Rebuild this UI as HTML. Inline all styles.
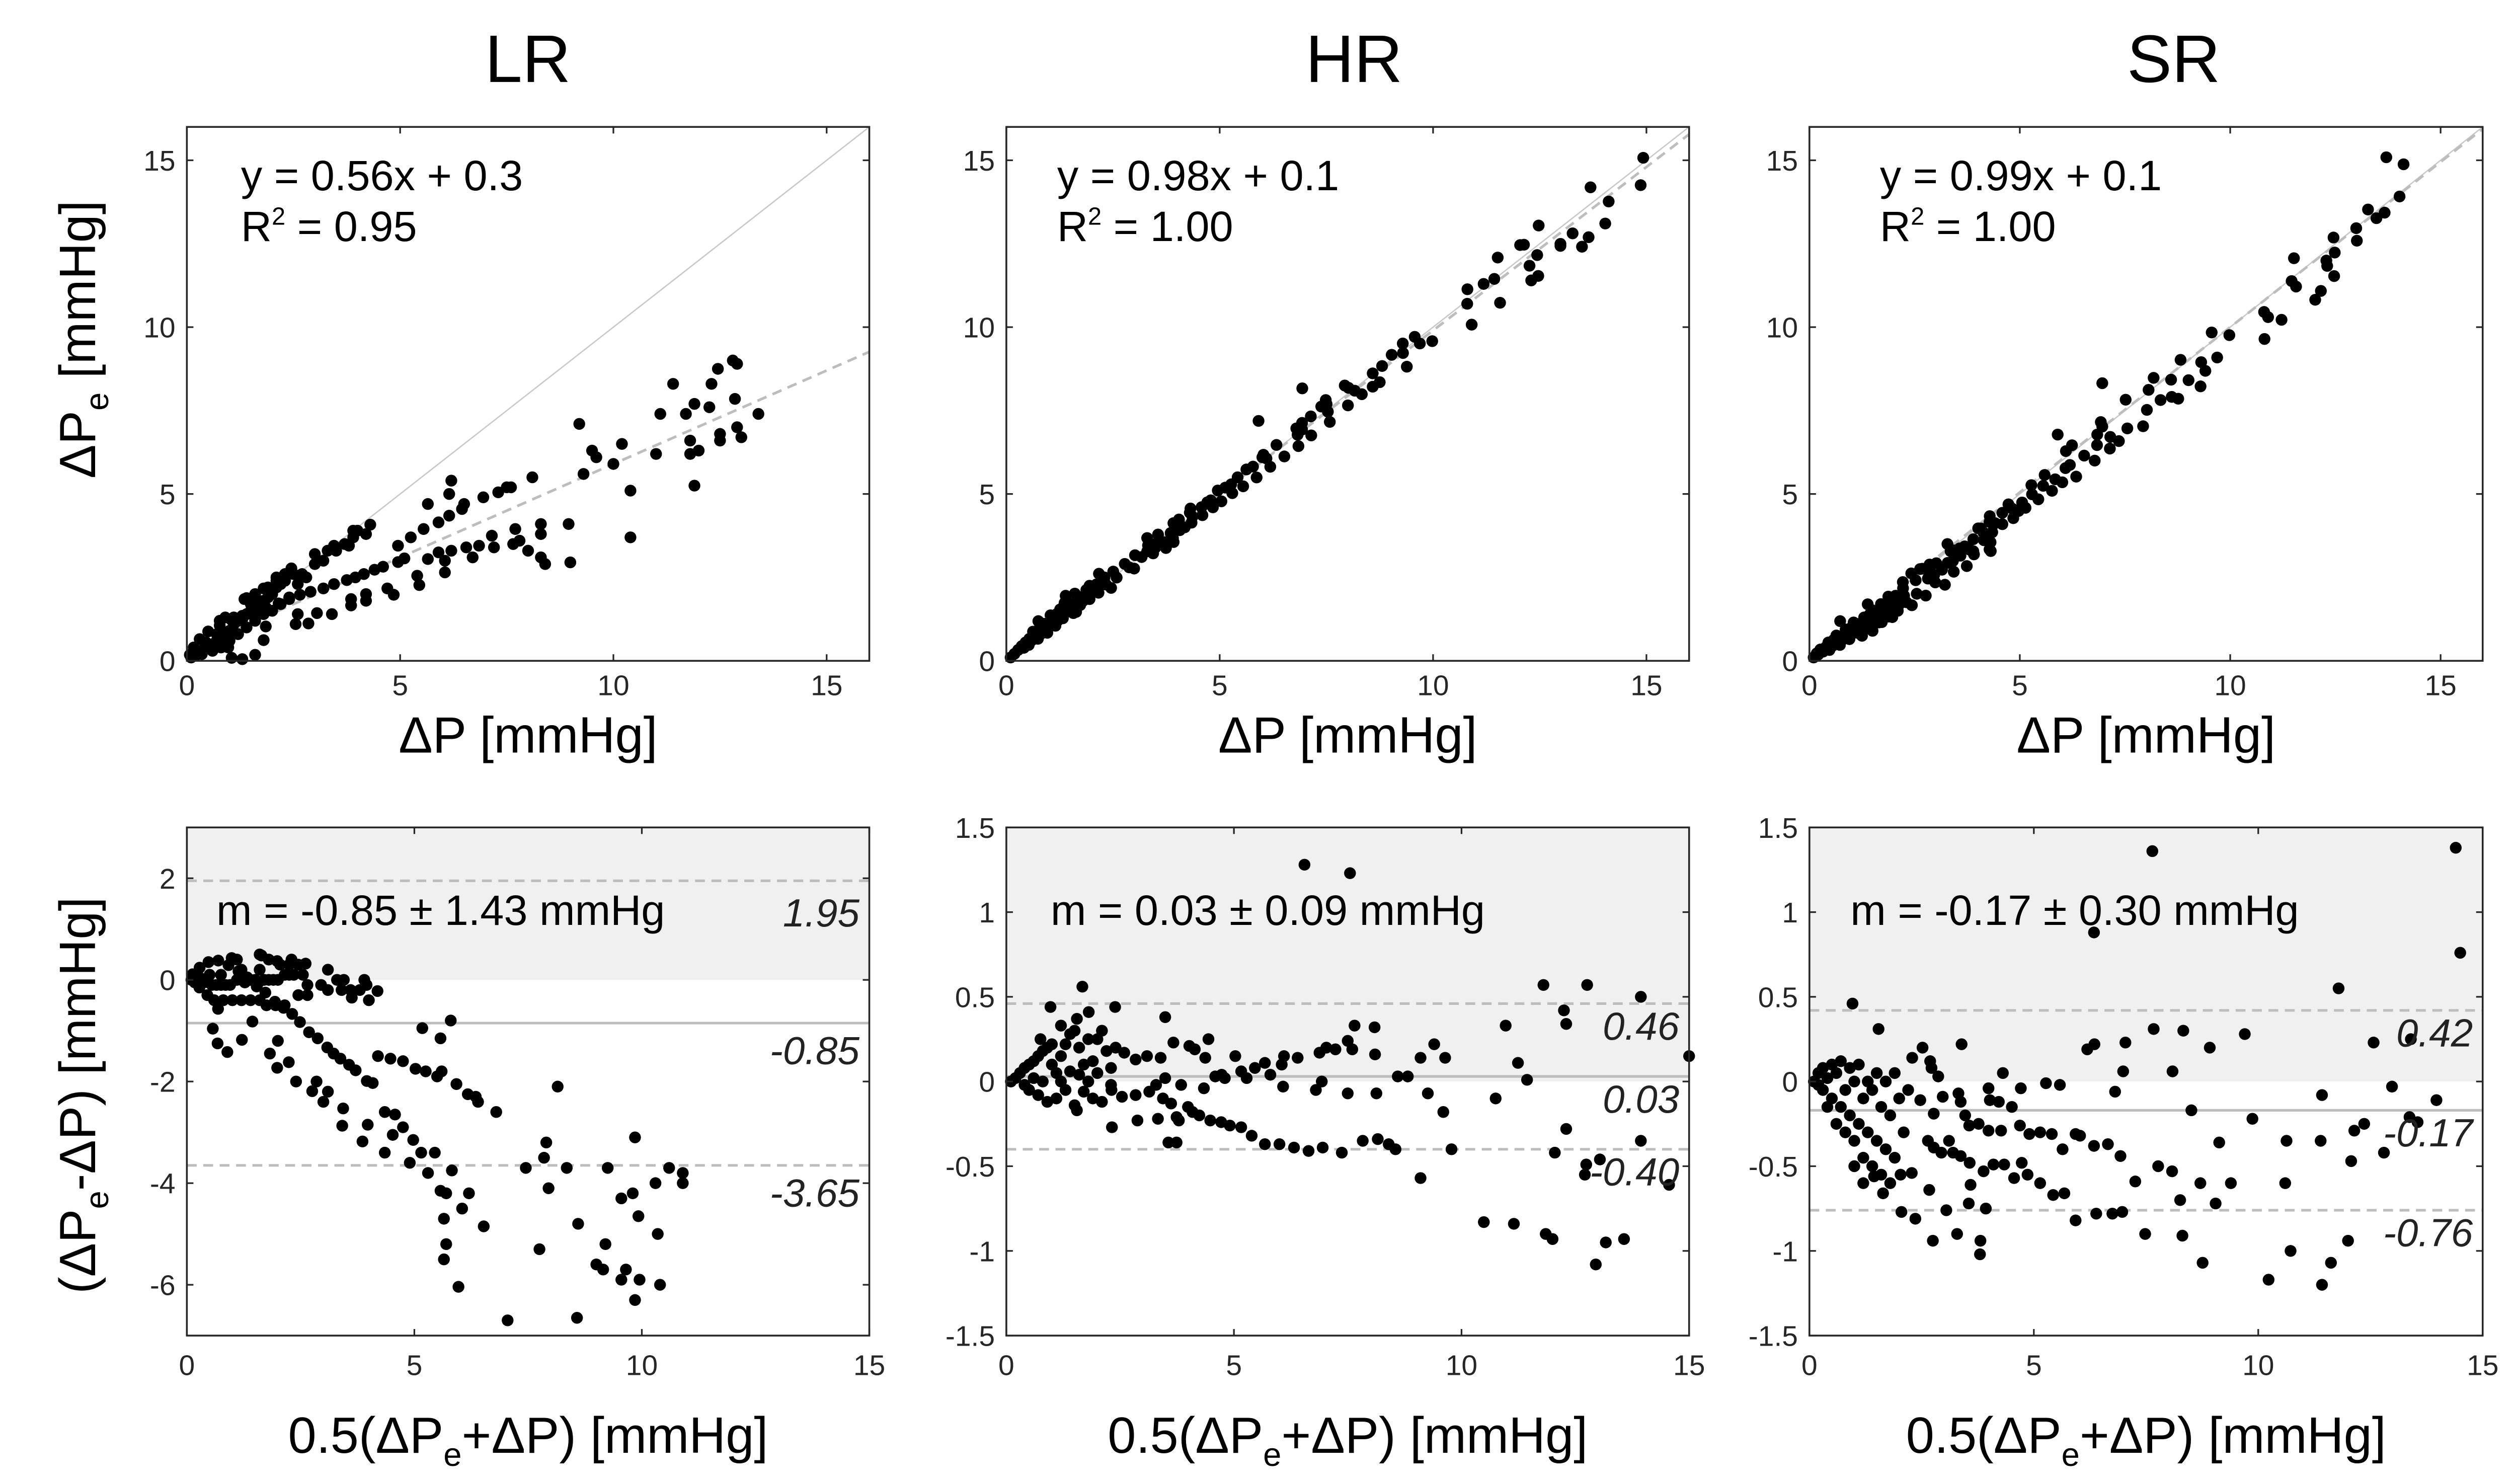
<!DOCTYPE html>
<html><head><meta charset="utf-8"><style>
html,body{margin:0;padding:0;background:#fff;}
svg{display:block;font-family:"Liberation Sans",sans-serif;}
</style></head><body>
<svg id="fig" width="5082" height="2949" viewBox="0 0 1560 905" preserveAspectRatio="none" xmlns="http://www.w3.org/2000/svg"></svg>
<script>
// ---------- data ----------
const lrP  = [13.4,12.9,12.8,12.45,12.3,11.4,12.85,12.25,11.9,11.7,11.1,12.9,13.0,12.5,12.5,11.8,11.8,12.0,11.0,11.9,10.2,10.0,9.2,9.5,9.6,9.3,10.4,10.4,8.95,8.99,8.1,7.6,7.5,7.3,6.95,6.5,6.45,6.2,6.15,6.15,5.65,5.9,5.55,5.25,4.95,8.3,8.3,7.7,7.8,7.65,8.0,8.3,8.4,7.15,7.2,6.85,6.7,6.55,6.2,5.9,6.05,6.05,5.65,5.45,5.4,4.85,4.7,4.2,4.2,3.85,3.85,3.4,3.05,2.55,2.6,2.85,4.3,3.9,3.8,3.45,3.3,3.0,2.45,2.1,1.8,1.4,0.77,5.1,4.95,4.6,4.4,4.15,3.95,3.75,3.45,3.2,2.9,2.65,2.4,2.15,1.85,1.6,1.3,1.05,0.77,0.5,0.3,0.16,0.07,1.05,1.3,1.6,1.8,1.85,0.97,0.1,0.2,0.3,0.4,0.5,0.6,0.7,0.8,0.9,1.0,1.1,1.2,1.3,1.4,1.5,1.6,1.7,1.8,1.9,2.0,2.1,2.2,2.3,2.5,2.7,0.6,0.8,1.0,1.2,1.4,1.6,1.8,2.0,2.2,2.4,1.35,0.9,1.6,1.9,2.1,2.3,0.35,0.25,0.45,0.7,1.1,1.5,2.6,2.8,3.0,3.2,3.5,3.7,4.0,4.2,3.9];
const lrPe = [7.4,8.9,9.0,8.75,8.3,8.3,7.85,7.6,7.7,7.4,7.4,7.0,6.7,6.8,6.6,6.6,6.2,6.3,6.2,5.25,6.5,5.9,7.1,6.3,6.1,5.6,5.1,3.7,4.1,2.95,5.5,5.2,5.2,5.05,4.9,4.7,4.55,5.4,5.0,4.35,4.7,4.15,3.95,3.7,3.45,4.1,3.8,3.95,3.6,3.5,3.3,3.1,2.9,3.75,3.4,3.45,3.1,3.4,3.3,3.25,3.0,2.65,3.05,2.27,2.55,1.98,2.17,2.0,1.8,1.85,1.66,1.4,1.43,1.1,1.4,1.12,4.08,3.9,3.45,3.45,3.3,3.2,2.77,2.4,2.17,1.88,1.2,3.07,2.96,2.82,2.73,2.6,2.5,2.42,2.3,2.17,2.07,1.98,1.85,1.72,1.6,1.47,1.35,1.22,1.06,0.88,0.65,0.4,0.18,0.09,0.05,0.18,0.62,1.03,0.4,0.1,0.15,0.25,0.35,0.45,0.5,0.6,0.7,0.8,0.9,1.1,1.2,1.25,1.4,1.5,1.55,1.7,1.8,1.9,2.0,2.2,2.3,2.4,2.6,2.6,0.3,0.4,0.6,0.8,1.0,1.2,1.4,1.5,1.7,1.9,1.85,1.3,2.0,2.2,2.5,2.6,0.2,0.3,0.55,0.8,1.3,1.7,2.3,2.5,2.9,3.0,3.3,3.5,3.9,3.8,3.7];

const hrMean = [6.55,7.55,1.67,0.97,2.39,1.81,1.55,3.49,11.8,12.76,13.94,12.25,12.3,10.97,7.65,8.09,15.0,9.4,9.1,9.64,11.24,11.44,10.75,8.1,7.5,7.6,7.23,6.88,7.03,6.4,6.1,6.05,5.68,5.46,5.28,5.16,5.03,4.8,4.73,5.8,6.08,6.8,6.93,7.5,8.13,8.6,8.82,9.26,9.6,9.78,9.1,8.55,8.4,8.16,7.83,7.37,6.95,6.64,6.32,6.0,5.68,5.39,5.16,4.91,4.72,4.48,4.24,4.09,3.99,3.79,3.74,3.56,3.74,3.33,2.88,2.32,1.55,10.49,11.15,11.85,12.0,12.95,13.17,13.57,14.56,12.71,12.74,13.04,13.94,12.05,12.3,4.44,4.37,4.14,4.02,3.67,3.39,3.09,2.84,2.59,4.34,4.59,3.84,3.49,3.29,3.14,2.84,2.54,2.31,3.62,3.44,0.1,0.2,0.3,0.4,0.5,0.6,0.7,0.8,0.9,1.0,1.1,1.2,1.3,1.4,1.5,1.6,1.7,1.8,1.9,2.0,2.1,2.2,2.3,2.4,0.5,0.7,0.9,1.1,1.3,1.5,1.7,1.9,2.1,2.3,0.6,0.8,1.2,1.4,1.6,2.0,0.4,1.0,1.2,1.8,0.75];
const hrDiff = [1.28,1.23,0.56,0.44,0.44,0.41,0.37,0.38,0.57,0.57,0.50,0.42,0.34,0.33,0.33,0.32,0.15,0.22,0.14,0.14,0.11,0.01,-0.1,0.16,0.24,0.19,0.19,0.17,0.2,0.14,0.15,0.1,0.11,0.08,0.02,0.06,0.15,0.02,0.04,0.04,-0.03,-0.05,0.0,-0.07,-0.07,0.03,0.03,-0.07,-0.18,-0.4,-0.57,-0.4,-0.37,-0.34,-0.35,-0.42,-0.39,-0.41,-0.39,-0.37,-0.37,-0.32,-0.27,-0.26,-0.24,-0.23,-0.2,-0.18,-0.15,-0.23,-0.21,-0.36,-0.36,-0.22,-0.23,-0.27,-0.17,-0.83,-0.84,-0.9,-0.93,-1.08,-0.95,-0.93,-0.61,-0.55,-0.49,-0.46,-0.35,-0.42,-0.28,0.25,0.14,0.19,0.21,0.23,0.14,0.15,0.13,0.17,-0.04,0.03,-0.02,0.02,-0.02,-0.06,-0.08,-0.09,-0.05,-0.13,-0.1,0.0,0.02,0.05,0.08,0.1,0.12,0.15,0.18,0.2,0.1,0.05,0.15,0.22,0.28,0.3,0.2,0.1,0.0,0.12,0.25,0.3,0.18,0.08,0.2,-0.05,-0.08,-0.12,-0.1,-0.05,-0.14,-0.06,-0.1,-0.12,-0.02,0.02,0.0,0.0,0.06,0.04,0.05,-0.02,0.22,0.33,0.25,0.25];

const srMean = [7.64,14.4,14.5,6.34,11.79,0.96,1.54,7.67,8.33,9.7,12.57,13.4,7.04,6.35,6.19,8.92,3.39,2.52,2.29,2.69,2.72,2.87,6.99,8.09,4.31,5.27,5.58,4.71,3.99,6.81,12.98,11.42,13.97,8.51,9.87,13.37,13.55,12.36,12.14,10.63,11.39,12.8,12.07,9.13,6.65,6.34,6.93,5.93,6.03,5.64,5.4,5.14,4.9,4.69,4.27,4.51,4.22,4.02,3.99,7.77,8.08,7.26,8.71,9.39,10.6,8.26,9.05,6.97,6.75,6.39,5.93,7.48,8.31,12.0,10.72,11.62,8.76,10.23,11.42,5.68,5.43,5.14,4.86,4.56,4.73,4.34,4.1,3.88,3.59,3.55,3.93,3.81,3.8,3.29,2.75,3.05,2.67,2.36,2.05,1.64,1.44,2.03,2.28,3.37,3.57,3.2,2.94,2.77,2.64,3.11,3.32,3.37,3.47,3.56,3.77,2.77,2.47,2.97,0.1,0.2,0.3,0.4,0.5,0.6,0.7,0.8,0.9,1.0,1.1,1.2,1.3,1.4,1.5,1.6,1.7,1.8,1.9,2.0,2.1,0.4,0.6,0.8,1.0,1.2,1.4,1.6,1.8,0.5,0.7,0.9,1.1,1.3,1.5,1.7,1.9,2.2,1.2,1.0,0.3,0.2];
const srDiff = [1.36,1.38,0.76,0.88,0.55,0.46,0.31,0.31,0.3,0.28,0.23,0.25,0.23,0.22,0.19,0.2,0.22,0.2,0.14,0.12,0.08,0.03,0.06,0.06,0.05,-0.01,-0.02,-0.04,-0.04,-0.06,-0.03,-0.08,-0.11,-0.17,-0.22,-0.21,-0.24,-0.25,-0.29,-0.35,-0.35,-0.42,-0.47,-0.36,-0.37,-0.38,-0.44,-0.31,-0.32,-0.4,-0.31,-0.3,-0.31,-0.26,-0.29,-0.15,-0.12,-0.11,-0.29,-0.5,-0.53,-0.59,-0.6,-0.6,-0.6,-0.7,-0.72,-0.77,-0.78,-0.78,-0.82,-0.9,-0.91,-0.94,-1.0,-1.07,-1.07,-1.17,-1.2,-0.66,-0.67,-0.6,-0.55,-0.57,-0.48,-0.49,-0.49,-0.53,-0.61,-0.72,-0.75,-0.94,-1.02,-0.9,-0.94,-0.76,-0.64,-0.81,-0.77,-0.66,-0.56,-0.55,-0.54,-0.44,-0.48,-0.42,-0.42,-0.39,-0.35,-0.35,-0.07,-0.12,-0.2,-0.26,-0.25,-0.19,-0.11,-0.09,0.0,-0.02,-0.05,0.02,-0.1,0.05,-0.15,-0.05,-0.2,0.0,-0.25,-0.1,-0.3,-0.05,-0.35,-0.15,-0.4,-0.2,-0.45,-0.1,-0.3,-0.15,-0.25,-0.3,-0.35,-0.45,-0.5,-0.55,-0.6,0.1,0.12,0.08,0.1,0.0,0.05,0.0,0.05,-0.05,-0.6,-0.5,0.08,0.05];

const methods = ["LR","HR","SR"];
const fitSlope = [0.56,0.98,0.99];
const fitIntercept = [0.3,0.1,0.1];
const fitR2 = ["0.95","1.00","1.00"];
const meanDiff = [-0.85,0.03,-0.17];
const sdDiff = [1.43,0.09,0.30];
const loaUpper = [1.95,0.46,0.42];
const loaLower = [-3.65,-0.40,-0.76];
const topTicks = [0,5,10,15];
const botXTicks = [0,5,10,15];
const lrYTicks = [2,0,-2,-4,-6];
const hrYTicks = [1.5,1,0.5,0,-0.5,-1,-1.5];

// ---------- layout ----------
const NS="http://www.w3.org/2000/svg";
const svg=document.getElementById('fig');
const colX=[[114,530.3],[613.9,1030.4],[1103.8,1514.5]];
const titleX=[322,826,1326];
const eqOff=[33,31,43];
const mOff=[18,27,25];
const topY=[77.4,403], botY=[504.6,814.5];
function el(tag,attrs,parent){const e=document.createElementNS(NS,tag);for(const k in attrs)e.setAttribute(k,attrs[k]);(parent||svg).appendChild(e);return e;}
function lin(d0,d1,r0,r1){return v=>r0+(v-d0)/(d1-d0)*(r1-r0);}
function fmt(v){return String(v);}

const data=[];
data.push({p:lrP,pe:lrPe});
function fromBA(m,d){const p=[],pe=[];for(let i=0;i<m.length;i++){p.push(m[i]-d[i]/2);pe.push(m[i]+d[i]/2);}return {p,pe};}
data.push(fromBA(hrMean,hrDiff));
data.push(fromBA(srMean,srDiff));

const R=3.6;
function axesBox(g,x0,x1,y0,y1,name){
  const b=el('rect',{x:x0,y:y0,width:x1-x0,height:y1-y0,fill:'none',stroke:'#262626','stroke-width':1.1},g);
  
  
}
function tickText(g,x,y,txt,anchor,name){
  const t=el('text',{x:x,y:y,'text-anchor':anchor,'font-size':17.5,fill:'#262626'},g);
  t.textContent=txt;
  
  
}

for(let c=0;c<3;c++){
  const [x0,x1]=colX[c];
  const cx=(x0+x1)/2;
  const title=el('text',{x:titleX[c],y:50,'text-anchor':'middle','font-size':41,fill:'#000'});
  title.textContent=methods[c];
  
  

  // ---- top scatter ----
  const g=el('g',{});
  
  
  const sx=lin(0,16,x0,x1), sy=lin(0,16,topY[1],topY[0]);
  const idl=el('line',{x1:sx(0),y1:sy(0),x2:sx(16),y2:sy(16),stroke:'#c8c8c8','stroke-width':0.8},g);
  
  
  const fy0=fitIntercept[c], fy1=fitSlope[c]*16+fitIntercept[c];
  const fl=el('line',{x1:sx(0),y1:sy(fy0),x2:sx(16),y2:sy(Math.min(fy1,16.2)),stroke:'#bdbdbd','stroke-width':1.6,'stroke-dasharray':'6 4'},g);
  
  
  const d=data[c];
  for(let i=0;i<d.p.length;i++){
    const pt=el('circle',{cx:sx(d.p[i]),cy:sy(d.pe[i]),r:R,fill:'#000'},g);
    
    
  }
  axesBox(g,x0,x1,topY[0],topY[1],'scatter-axes-box');
  for(const t of topTicks){
    el('line',{x1:sx(t),y1:topY[1],x2:sx(t),y2:topY[1]-4,stroke:'#262626'},g);
    el('line',{x1:sx(t),y1:topY[0],x2:sx(t),y2:topY[0]+4,stroke:'#262626'},g);
    el('line',{x1:x0,y1:sy(t),x2:x0+4,y2:sy(t),stroke:'#262626'},g);
    el('line',{x1:x1,y1:sy(t),x2:x1-4,y2:sy(t),stroke:'#262626'},g);
    tickText(g,sx(t),topY[1]+21,fmt(t),'middle','x-tick-label');
    tickText(g,x0-7,sy(t)+6.3,fmt(t),'end','y-tick-label');
  }
  const eq=el('text',{x:x0+eqOff[c],y:116,'font-size':26,fill:'#000'},g);
  eq.setAttribute('xml:space','preserve');
  eq.textContent='y  = '+fitSlope[c].toFixed(2)+'x + '+fitIntercept[c].toFixed(1);
  
  
  const r2=el('text',{x:x0+eqOff[c],y:147,'font-size':26,fill:'#000'},g);
  r2.innerHTML='R<tspan font-size="15" dy="-10">2</tspan><tspan dy="10"> = '+fitR2[c]+'</tspan>';
  
  
  const xl=el('text',{x:cx,y:459,'text-anchor':'middle','font-size':31,fill:'#000'},g);
  xl.textContent='ΔP [mmHg]';
  
  

  // ---- bottom Bland-Altman ----
  const gb=el('g',{});
  
  
  const yr = c==0?[-7,3]:[-1.5,1.5];
  const bx=lin(0,15,x0,x1), by=lin(yr[0],yr[1],botY[1],botY[0]);
  const sh=el('rect',{x:x0,y:botY[0],width:x1-x0,height:by(0)-botY[0],fill:'#f0f0f0'},gb);
  
  
  const ml=el('line',{x1:x0,y1:by(meanDiff[c]),x2:x1,y2:by(meanDiff[c]),stroke:'#bdbdbd','stroke-width':1.6},gb);
  
  
  for(const v of [loaUpper[c],loaLower[c]]){
    const l=el('line',{x1:x0,y1:by(v),x2:x1,y2:by(v),stroke:'#bdbdbd','stroke-width':1.6,'stroke-dasharray':'6 4'},gb);
    
    
  }
  for(let i=0;i<d.p.length;i++){
    const m=(d.p[i]+d.pe[i])/2, df=d.pe[i]-d.p[i];
    const pt=el('circle',{cx:bx(m),cy:by(df),r:R,fill:'#000'},gb);
    
    
  }
  axesBox(gb,x0,x1,botY[0],botY[1],'bland-altman-axes-box');
  for(const t of botXTicks){
    el('line',{x1:bx(t),y1:botY[1],x2:bx(t),y2:botY[1]-4,stroke:'#262626'},gb);
    el('line',{x1:bx(t),y1:botY[0],x2:bx(t),y2:botY[0]+4,stroke:'#262626'},gb);
    tickText(gb,bx(t),botY[1]+24,fmt(t),'middle','x-tick-label');
  }
  const yt = c==0?lrYTicks:hrYTicks;
  for(const t of yt){
    el('line',{x1:x0,y1:by(t),x2:x0+4,y2:by(t),stroke:'#262626'},gb);
    el('line',{x1:x1,y1:by(t),x2:x1-4,y2:by(t),stroke:'#262626'},gb);
    tickText(gb,x0-7,by(t)+6.3,fmt(t),'end','y-tick-label');
  }
  const mt=el('text',{x:x0+mOff[c],y:564,'font-size':26,fill:'#000'},gb);
  mt.setAttribute('xml:space','preserve');
  mt.textContent='m  = '+meanDiff[c].toFixed(2)+' ± '+sdDiff[c].toFixed(2)+' mmHg';
  
  
  const labs=[[loaUpper[c],'upper-limit-label'],[meanDiff[c],'mean-label'],[loaLower[c],'lower-limit-label']];
  for(const [v,n] of labs){
    let yy = by(v)+(c==0?25:22);
    if(c==0 && n=='upper-limit-label') yy=565;
    const t=el('text',{x:x1-6,y:yy,'text-anchor':'end','font-size':24,'font-style':'italic',fill:'#222'},gb);
    t.textContent=v.toFixed(2);
    
    
  }
  const bl=el('text',{x:cx,y:886,'text-anchor':'middle','font-size':31,fill:'#000'},gb);
  bl.innerHTML='0.5(ΔP<tspan font-size="20" dy="8">e</tspan><tspan dy="-8">+ΔP) [mmHg]</tspan>';
  
  
}
const yt1=el('text',{x:0,y:0,'text-anchor':'middle','font-size':31,fill:'#000',transform:'translate(58,207) rotate(-90)'});
yt1.innerHTML='ΔP<tspan font-size="20" dy="8">e</tspan><tspan dy="-8"> [mmHg]</tspan>';


const yt2=el('text',{x:0,y:0,'text-anchor':'middle','font-size':31,fill:'#000',transform:'translate(58,668) rotate(-90)'});
yt2.innerHTML='(ΔP<tspan font-size="20" dy="8">e</tspan><tspan dy="-8">-ΔP) [mmHg]</tspan>';


</script>
</body></html>
